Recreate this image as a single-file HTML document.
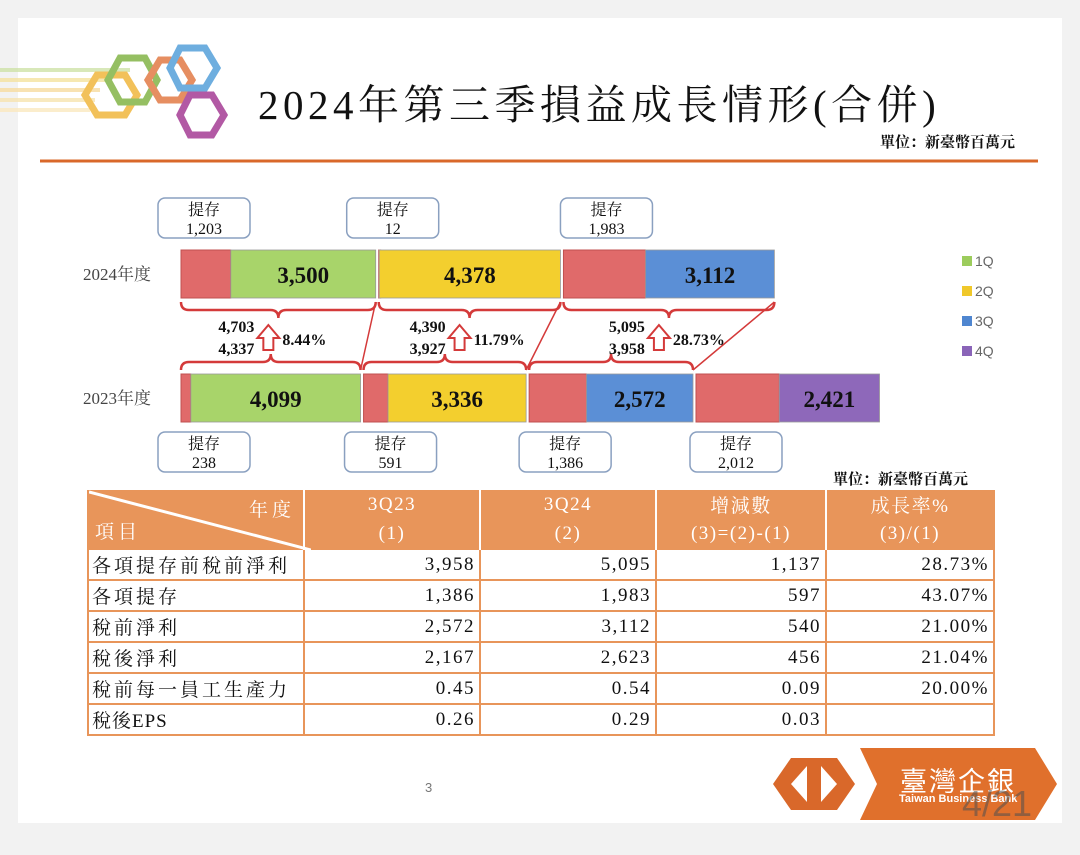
<!DOCTYPE html>
<html><head><meta charset="utf-8">
<style>
html,body{margin:0;padding:0;}
body{width:1080px;height:855px;position:relative;background:#f2f2f2;overflow:hidden;font-family:"Liberation Serif","Noto Serif CJK SC",serif;}
#slide{position:absolute;left:18px;top:18px;width:1044px;height:805px;background:#fff;}
.abs{position:absolute;}
table{border-collapse:collapse;position:absolute;left:87px;top:490px;width:908px;font-family:"Liberation Serif","Noto Serif CJK SC",serif;font-size:19px;}
td{border:2px solid #E8955A;padding:0 4px;height:29px;text-align:right;color:#111;letter-spacing:1.5px;}
td.l{text-align:left;letter-spacing:3px;padding-left:3px;}
tr.h td{background:#E8955A;color:#fff;text-align:center;height:29px;border-color:#fff;border-width:0 2px;}
</style></head><body>
<div id="slide"></div>
<svg class="abs" style="left:0;top:0" width="1080" height="855">
 <g opacity="0.8">
  <rect x="0" y="68" width="130" height="4" fill="#cfe3a8"/><rect x="0" y="78" width="110" height="4" fill="#f5e3a0"/>
  <rect x="0" y="88" width="100" height="4" fill="#f7dca0"/><rect x="0" y="98" width="95" height="4" fill="#f7e4b0"/>
  <rect x="0" y="108" width="90" height="4" fill="#fbe9c0"/>
  <polygon points="85,95 97,75 125,75 137,95 125,115 97,115" fill="none" stroke="#f0b232" stroke-width="7"/>
  <polygon points="108,80 120,58 145,58 157,80 145,102 120,102" fill="none" stroke="#7bb03c" stroke-width="7"/>
  <polygon points="148,80 160,60 180,60 192,80 180,100 160,100" fill="none" stroke="#e0733a" stroke-width="7"/>
  <polygon points="170,68 180,48 205,48 217,68 205,88 180,88" fill="none" stroke="#4a9ad8" stroke-width="7"/>
  <polygon points="180,115 190,95 212,95 224,115 212,135 190,135" fill="none" stroke="#a0308e" stroke-width="7"/>
 </g>
 <line x1="40" y1="161" x2="1038" y2="161" stroke="#d9682a" stroke-width="3"/>
 <g id="bars"></g>
 <g font-family="Liberation Sans, sans-serif" font-size="14" fill="#666">
  <rect x="962" y="256" width="10" height="10" fill="#9ccc5c"/><text x="975" y="266">1Q</text>
  <rect x="962" y="286" width="10" height="10" fill="#f0c82a"/><text x="975" y="296">2Q</text>
  <rect x="962" y="316" width="10" height="10" fill="#4f86d0"/><text x="975" y="326">3Q</text>
  <rect x="962" y="346" width="10" height="10" fill="#8a64b8"/><text x="975" y="356">4Q</text>
 </g>
</svg>
<div class="abs" style="left:258px;top:72px;font-size:41px;color:#111;white-space:nowrap;letter-spacing:4.5px">2024年第三季損益成長情形(合併)</div>
<div class="abs" style="left:880px;top:131px;font-size:15px;color:#111;font-weight:bold">單位：新臺幣百萬元</div>
<div class="abs" style="left:833px;top:468px;font-size:15px;color:#111;font-weight:bold">單位：新臺幣百萬元</div>
<table>
<tr class="h"><td rowspan="2" style="position:relative;width:214px;padding:0;border-left-color:#E8955A">
<svg width="222" height="60" style="position:absolute;left:0;top:0"><line x1="0" y1="2" x2="222" y2="60" stroke="#fff" stroke-width="3"/></svg>
<span style="position:absolute;right:8px;top:5px;letter-spacing:4px">年度</span><span style="position:absolute;left:6px;bottom:4px;letter-spacing:4px">項目</span></td>
<td style="width:166px">3Q23</td><td style="width:166px">3Q24</td><td style="width:160px">增減數</td><td style="border-right-color:#E8955A">成長率%</td></tr>
<tr class="h"><td>(1)</td><td>(2)</td><td>(3)=(2)-(1)</td><td style="border-right-color:#E8955A">(3)/(1)</td></tr>
<tr><td class="l">各項提存前稅前淨利</td><td>3,958</td><td>5,095</td><td>1,137</td><td>28.73%</td></tr>
<tr><td class="l">各項提存</td><td>1,386</td><td>1,983</td><td>597</td><td>43.07%</td></tr>
<tr><td class="l">稅前淨利</td><td>2,572</td><td>3,112</td><td>540</td><td>21.00%</td></tr>
<tr><td class="l">稅後淨利</td><td>2,167</td><td>2,623</td><td>456</td><td>21.04%</td></tr>
<tr><td class="l">稅前每一員工生產力</td><td>0.45</td><td>0.54</td><td>0.09</td><td>20.00%</td></tr>
<tr><td class="l" style="letter-spacing:1px">稅後EPS</td><td>0.26</td><td>0.29</td><td>0.03</td><td></td></tr>
</table>
<div class="abs" style="left:425px;top:780px;font-size:13px;color:#777;font-family:'Liberation Sans',sans-serif">3</div>
<svg class="abs" style="left:765px;top:742px" width="300" height="85">
 <polygon points="8,42 26,16 72,16 90,42 72,68 26,68" fill="#d9682a"/>
 <polygon points="26,42 42,24 42,60" fill="#fff"/><polygon points="72,42 56,24 56,60" fill="#fff"/>
 <polygon points="95,6 270,6 292,42 270,78 95,78 112,42" fill="#e0702c"/>
</svg>
<div class="abs" style="left:900px;top:760px;font-size:27px;color:#fff;font-family:'Liberation Sans','Noto Sans CJK TC',sans-serif;letter-spacing:2px">臺灣企銀</div>
<div class="abs" style="left:899px;top:793px;font-size:11px;color:#fff;font-family:'Liberation Sans',sans-serif;font-weight:bold">Taiwan Business Bank</div>
<div class="abs" style="left:962px;top:783px;font-size:36px;color:rgba(80,80,80,0.55);font-family:'Liberation Sans',sans-serif">4/21</div>
<script>
const rows = ["2024年度","2023年度"];
const quarters = ["1Q","2Q","3Q","4Q"];
const prov2024 = [1203,12,1983];
const net2024 = [3500,4378,3112];
const prov2023 = [238,591,1386,2012];
const net2023 = [4099,3336,2572,2421];
const cmpNow = [4703,4390,5095];
const cmpPrev = [4337,3927,3958];
const growth = ["8.44%","11.79%","28.73%"];
const NS="http://www.w3.org/2000/svg";
const g=document.getElementById('bars');
const colors=["#a8d46a","#f3cf2e","#5b8fd6","#8e68ba"];
const SCALE=0.0414, X0=181;
const topCalloutOffset=[23,14,43], botCalloutOffset=[23,27,36,40];
function sx(v){return v*SCALE;}
function mk(tag,attrs,parent){const e=document.createElementNS(NS,tag);for(const k in attrs)e.setAttribute(k,attrs[k]);(parent||g).appendChild(e);return e;}
function txt(x,y,s,size,anchor,weight,fill){const t=mk('text',{x:x,y:y,'font-size':size,'text-anchor':anchor||'middle','font-weight':weight||'normal',fill:fill||'#111','font-family':'Liberation Serif, Noto Serif CJK SC, serif'});t.textContent=s;return t;}
function callout(cx,y,val){
 const b=mk('rect',{x:cx-46,y:y,width:92,height:40,rx:7,fill:'#fff',stroke:'#8aa0c0','stroke-width':1.5});
 
 
 txt(cx,y+17,'提存',16);txt(cx,y+36,val.toLocaleString('en-US'),16);
}
function drawRow(prov,net,y,label){
 const lab=txt(83,y+30,label,17,'start');lab.setAttribute('fill','#444');
 let x=X0; const pos=[];
 for(let i=0;i<net.length;i++){
  const s=x; const wp=sx(prov[i]);
  const r=mk('rect',{x:x,y:y,width:Math.max(wp,2),height:48,fill:'#e06a6a',stroke:'#c05050','stroke-width':1});
  
  
  x+=wp; const wn=sx(net[i]);
  const r2=mk('rect',{x:x,y:y,width:wn,height:48,fill:colors[i],stroke:'#999','stroke-width':0.8});
  
  
  txt(x+wn/2,y+33,net[i].toLocaleString('en-US'),23,'middle','bold');
  pos.push([s,s+wp,x+wn]); x+=wn+3;
 }
 return pos;
}
const topPos=drawRow(prov2024,net2024,250,rows[0]);
const botPos=drawRow(prov2023,net2023,374,rows[1]);
topPos.forEach((p,i)=>callout(p[0]+topCalloutOffset[i],198,prov2024[i]));
botPos.forEach((p,i)=>callout(p[0]+botCalloutOffset[i],432,prov2023[i]));
function brace(x1,x2,y,dir){
 const m=(x1+x2)/2,d=dir*8;
 const p=mk('path',{d:`M${x1},${y} q0,${d} 8,${d} L${m-8},${y+d} q8,0 8,${d} q0,${-d} 8,${-d} L${x2-8},${y+d} q8,0 8,${-d}`,fill:'none',stroke:'#d43a3a','stroke-width':2.5});
 
 
}
for(let i=0;i<3;i++){
 const t=topPos[i],b=botPos[i];
 brace(t[0],t[2],302,1); brace(b[0],b[2],370,-1);
 mk('line',{x1:t[2],y1:302,x2:b[2],y2:370,stroke:'#d43a3a','stroke-width':1.5});
 const m=(t[0]+t[2])/2-10;
 const arr=mk('path',{d:`M${m-5},350 L${m-5},338 L${m-11},338 L${m},325 L${m+11},338 L${m+5},338 L${m+5},350 Z`,fill:'#fff',stroke:'#d43a3a','stroke-width':2});
 
 
 txt(m-14,332,cmpNow[i].toLocaleString('en-US'),16,'end','bold');
 txt(m-14,354,cmpPrev[i].toLocaleString('en-US'),16,'end','bold');
 txt(m+14,345,growth[i],16,'start','bold');
}
</script>
</body></html>
